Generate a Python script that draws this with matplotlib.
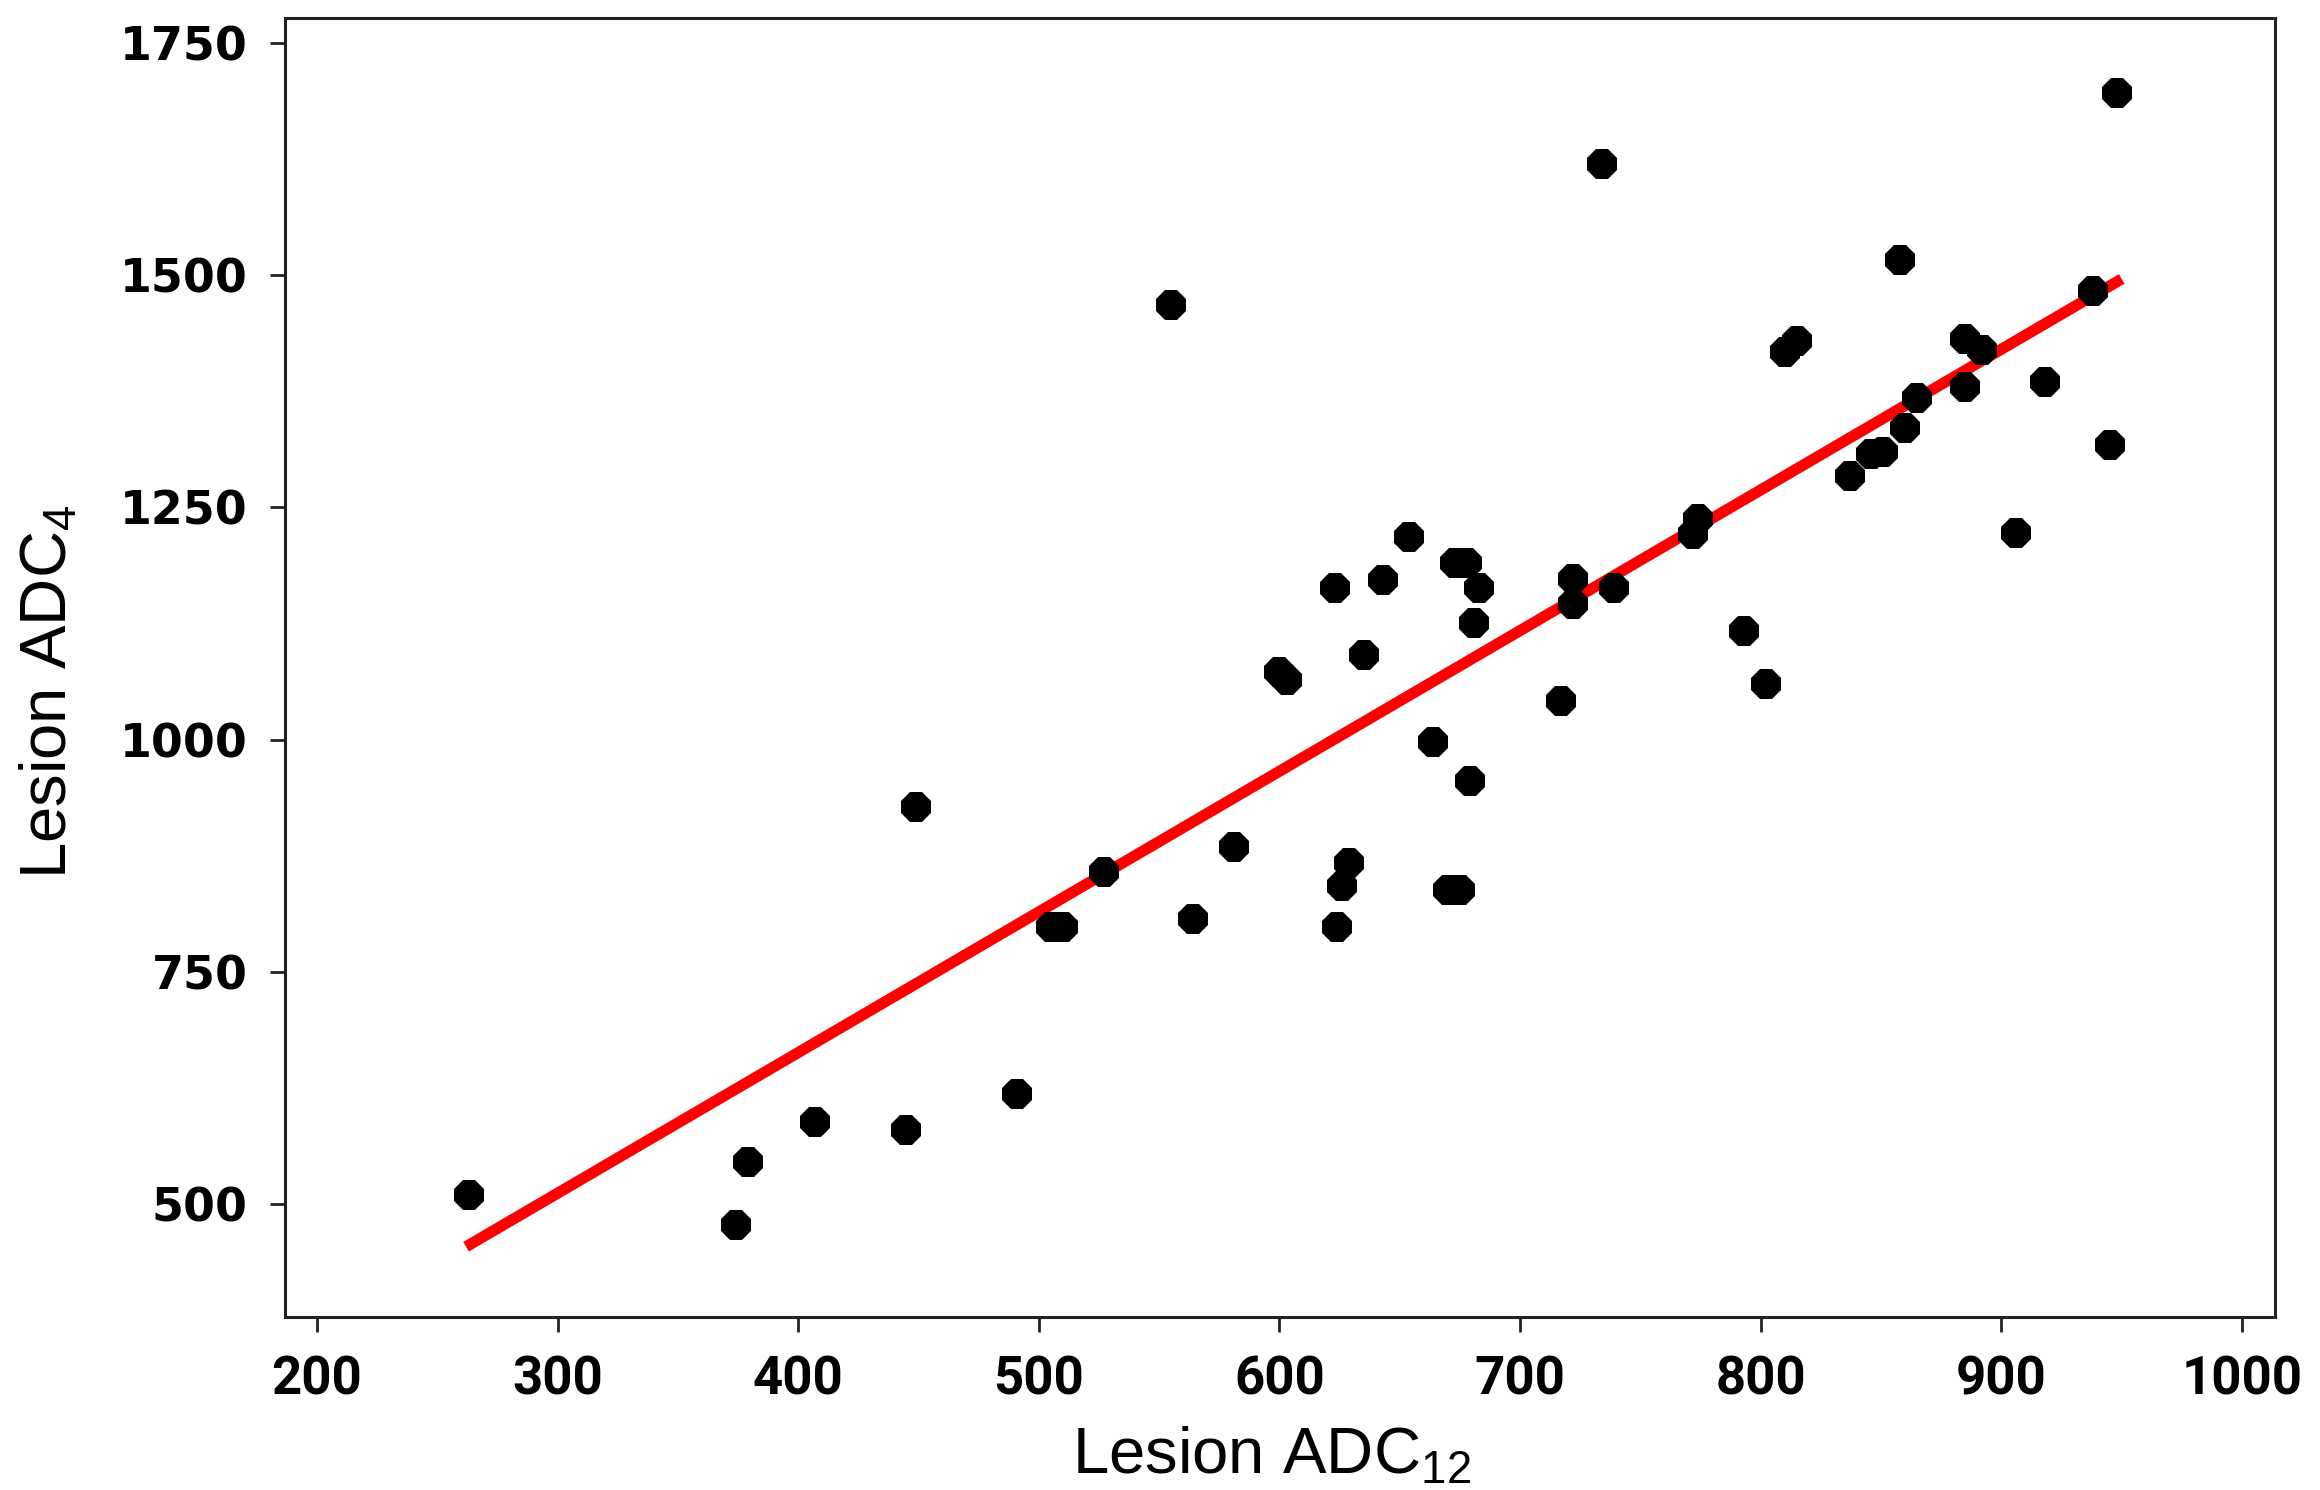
import matplotlib
matplotlib.use("Agg")
import matplotlib.pyplot as plt

# Data
adc12 = [263, 374, 379, 407, 445, 449, 491, 505, 510, 527, 555, 564, 581,
         600, 603, 623, 624, 626, 629, 635, 643, 654, 664, 670, 675, 673,
         678, 679, 681, 683, 717, 722, 722, 734, 739, 772, 774, 793, 802,
         810, 815, 837, 846, 851, 858, 860, 865, 885, 885, 892, 906, 918,
         938, 945, 948]
adc4 = [510, 477, 545, 588, 580, 927, 618, 798, 798, 857, 1468, 807, 884,
        1073, 1064, 1163, 798, 842, 867, 1091, 1172, 1218, 997, 838, 838, 1190,
        1190, 955, 1126, 1163, 1042, 1173, 1146, 1620, 1163, 1221, 1237, 1117, 1060,
        1417, 1429, 1284, 1307, 1310, 1516, 1335, 1368, 1431, 1380, 1419, 1222, 1385,
        1483, 1317, 1696]

fit_x = [262, 950]
fit_y = [454, 1496]

xticks = [200, 300, 400, 500, 600, 700, 800, 900, 1000]
yticks = [500, 750, 1000, 1250, 1500, 1750]

plt.rcParams["mathtext.fontset"] = "custom"
plt.rcParams["mathtext.rm"] = "Liberation Sans"
plt.rcParams["mathtext.default"] = "regular"

fig = plt.figure(figsize=(23.2, 14.9), dpi=100)
ax = fig.add_axes([0.1228, 0.1161, 0.8578, 0.8718])

ax.plot(fit_x, fit_y, color="#ff0000", lw=8, solid_capstyle="butt", zorder=2)
ax.plot(adc12, adc4, linestyle="none", marker="8", markersize=23,
        color="black", markeredgewidth=0, zorder=3)

ax.set_xlim(186.7, 1013.7)
ax.set_ylim(378.3, 1776.9)
ax.set_xticks(xticks)
ax.set_yticks(yticks)
ax.set_xticklabels([str(v) for v in xticks])
ax.set_yticklabels([str(v) for v in yticks])

for lab in ax.get_yticklabels():
    lab.set_fontfamily("DejaVu Sans")
    lab.set_fontweight("bold")
    lab.set_fontsize(33)
for lab in ax.get_xticklabels():
    lab.set_fontfamily("Roboto")
    lab.set_fontweight("bold")
    lab.set_fontsize(38)

ax.tick_params(axis="both", direction="out", length=11, width=2, color="#222222")
ax.tick_params(axis="y", pad=16)
ax.tick_params(axis="x", pad=16)

for s in ax.spines.values():
    s.set_linewidth(2.2)
    s.set_color("#222222")

fig.text(0.548, 0.011, r"Lesion ADC$_{12}$", family="Liberation Sans",
         fontsize=47, ha="center", va="baseline")
fig.text(0.008, 0.536, r"Lesion ADC$_{4}$", family="Liberation Sans",
         fontsize=47, ha="left", va="center", rotation=90)

fig.savefig("out.png", dpi=100, facecolor="white")
